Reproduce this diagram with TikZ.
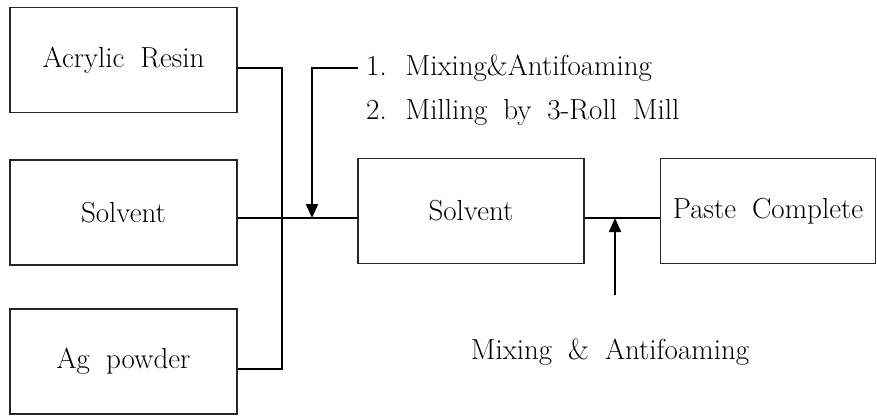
\documentclass[tikz,border=0pt]{standalone}
\usepackage{tikz}
\usetikzlibrary{arrows.meta}

\newcommand{\bigtxt}{\fontsize{29}{33}\selectfont\spaceskip=0.55em plus 0.1em}
\tikzset{
  box/.style={draw=black!85,line width=1.1pt,minimum width=227pt,minimum height=105pt,inner sep=0pt,font=\bigtxt},
  wire/.style={line width=2pt},
  lbl/.style={inner sep=0pt,font=\bigtxt}
}

\begin{document}
\begin{tikzpicture}[x=1pt,y=-1pt]
  \useasboundingbox (0,0) rectangle (877,415);
  \node[box] (resin) at (123.5,60) {Acrylic Resin};
  \node[box] (solv) at (123.5,212.5) {Solvent};
  \node[box] (ag) at (123.5,361.5) {Ag powder};
  \node[box,minimum width=226pt] (mid) at (471,211) {Solvent};
  \node[box,minimum width=215pt] (paste) at (768,211) {Paste Complete};
  \node[lbl,anchor=west] (step1) at (366,68) {1. Mixing\&Antifoaming};
  \node[lbl,anchor=west] (step2) at (366,112) {2. Milling by 3-Roll Mill};
  \node[lbl] (mix) at (610,352) {Mixing \& Antifoaming};
  \coordinate (bustop) at (282,68);
  \coordinate (busbot) at (282,369);
  \coordinate (tap) at (312,218);
  \coordinate (tap2) at (615,218);
  \coordinate (feed) at (615,295);
  \draw[wire] (resin.east |- bustop) -- (bustop) -- (busbot) -- (ag.east |- busbot);
  \draw[wire] (solv.east |- tap) -- (mid.west |- tap);
  \draw[wire] (mid.east |- tap2) -- (paste.west |- tap2);
  \draw[wire,-{Triangle[length=14pt,width=12pt]}] ([xshift=-8pt]step1.west) -| (tap); % into the line
  \draw[wire,-{Triangle[length=14pt,width=12pt]}] (feed) -- (tap2);
\end{tikzpicture}
\end{document}
